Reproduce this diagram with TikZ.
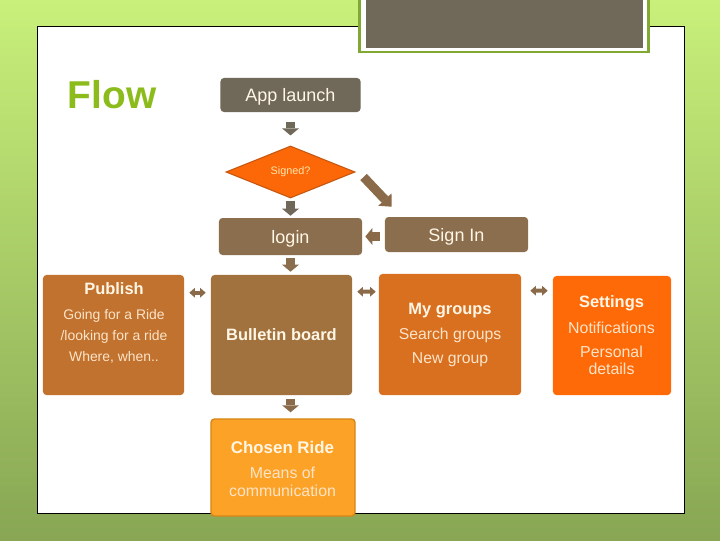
\documentclass[tikz,border=0pt]{standalone}
\usepackage{fontspec}
\setmainfont{Liberation Sans}
\usetikzlibrary{arrows.meta,shapes.geometric}
\definecolor{bgtop}{RGB}{200,240,122}
\definecolor{bgbottom}{RGB}{136,166,84}
\definecolor{flowgreen}{RGB}{140,188,28}
\definecolor{framegreen}{RGB}{128,168,50}
\definecolor{graybrown}{RGB}{112,104,88}
\definecolor{midbrown}{RGB}{139,110,78}
\definecolor{arrowbrown}{RGB}{138,106,72}
\definecolor{publishcol}{RGB}{192,114,46}
\definecolor{bulletincol}{RGB}{161,114,62}
\definecolor{groupscol}{RGB}{216,112,32}
\definecolor{settingscol}{RGB}{254,106,8}
\definecolor{chosencol}{RGB}{252,162,38}
\definecolor{chosenedge}{RGB}{214,134,24}
\definecolor{signedcol}{RGB}{252,104,8}
\definecolor{signededge}{RGB}{200,88,16}
\definecolor{subtext}{RGB}{253,228,200}
\definecolor{titletext}{RGB}{255,246,230}
\newcommand{\boxtitlefont}{\fontsize{11.7}{14}\selectfont\bfseries}

\begin{document}
\begin{tikzpicture}[x=0.025cm, y=-0.025cm,
    flowbox/.style={rectangle, rounded corners=2.5pt, inner sep=0pt, text=titletext},
    stepbox/.style={flowbox, text depth=0pt, font=\fontsize{12.8}{15}\selectfont},
    boxtext/.style={align=center, inner sep=0pt, text=subtext},
    boxtitle/.style={font=\boxtitlefont},
    fatarrow/.style={line width=5.7pt, -{Triangle[length=5pt, width=12pt, line width=0pt]}},
    sidearrow/.style={arrowbrown, line width=2.8pt,
      {Triangle[length=4pt, width=7pt, line width=0pt]}-{Triangle[length=4pt, width=7pt, line width=0pt]}},
  ]

  % page and background
  \useasboundingbox (0,0) rectangle (720,540);
  \shade[top color=bgtop, bottom color=bgbottom] (0,0) rectangle (720,540);
  \filldraw[fill=white, draw=black, line width=0.7pt] (37,26) rectangle (684,513);

  % title box at the top
  \fill[framegreen] (358,0) rectangle (650,53);
  \fill[white] (361,0) rectangle (647,50.5);
  \fill[graybrown] (366,0) rectangle (643,48);

  \node[text=flowgreen, font=\fontsize{27.6}{30}\selectfont\bfseries] (flow) at (112,95) {Flow};

  % --- top of the flow ---
  \node[stepbox, fill=graybrown, minimum width=3.5cm, minimum height=0.85cm] (app) at (290.5,95) {App launch};
  \node[diamond, aspect=2.48, inner sep=0pt, minimum width=3.225cm, minimum height=1.3cm,
        fill=signedcol, draw=signededge, line width=0.8pt,
        text={rgb,255:red,255;green,230;blue,170}, font=\fontsize{7.7}{9}\selectfont] (signed) at (290.5,172) {Signed?};
  \node[stepbox, fill=midbrown, minimum width=3.575cm, minimum height=0.925cm] (login) at (290.5,236.5) {login};
  \node[stepbox, fill=midbrown, minimum width=3.575cm, minimum height=0.875cm] (signin) at (456.5,234.5) {Sign In};

  % --- main row ---
  \node[flowbox, fill=publishcol, minimum width=3.525cm, minimum height=3cm] (publish) at (113.5,335) {};
  \node[boxtext, font=\fontsize{9.9}{14.9}\selectfont] (publish-txt) at (114,323)
    {{\boxtitlefont\color{titletext}Publish}\\[2.8pt]Going for a Ride\\/looking for a ride\\Where, when..};
  \node[flowbox, fill=bulletincol, minimum width=3.525cm, minimum height=3cm,
        boxtitle] (bulletin) at (281.5,335) {Bulletin board};
  \node[flowbox, fill=groupscol, minimum width=3.55cm, minimum height=3.025cm] (groups) at (450,334.5) {};
  \node[boxtext, font=\fontsize{11.2}{17.4}\selectfont] (groups-txt) at (450,335)
    {{\boxtitlefont\color{titletext}My groups}\\Search groups\\New group};
  \node[flowbox, fill=settingscol, minimum width=2.95cm, minimum height=2.975cm] (settings) at (612,335.5) {};
  \node[boxtext, font=\fontsize{11.3}{12.4}\selectfont] (settings-txt) at (611.5,335.5)
    {{\boxtitlefont\color{titletext}Settings}\\[6pt]Notifications\\[4.5pt]Personal\\details};

  % --- bottom ---
  \node[flowbox, fill=chosencol, draw=chosenedge, line width=1pt,
        minimum width=3.6cm, minimum height=2.425cm] (chosen) at (283,467.5) {};
  \node[boxtext, font=\fontsize{11.3}{12.8}\selectfont] (chosen-txt) at (282.5,468.5)
    {{\fontsize{12}{14}\selectfont\bfseries\color{titletext}Chosen Ride}\\[5pt]Means of\\communication};

  % arrows
  \draw[fatarrow, graybrown, shorten <=0.25cm, shorten >=0.25cm] (app.south) -- (signed.north);
  \draw[fatarrow, graybrown, shorten <=0.05cm, shorten >=0.05cm] (signed.south) -- (login.north);
  \draw[fatarrow, midbrown, shorten <=0.075cm, shorten >=0.075cm] (login.south) -- (login.south |- bulletin.north);
  \draw[fatarrow, arrowbrown, shorten <=0.1cm, shorten >=0.15cm] (bulletin.south -| login.south) -- (chosen.north -| login.south);
  \draw[arrowbrown, line width=6.4pt, -{Triangle[length=7pt, width=12.8pt, line width=0pt]}]
    ([shift={(8,5)}]signed.east) -- ([shift={(7,-10)}]signin.north west);
  \draw[arrowbrown, line width=7pt, -{Triangle[length=5pt, width=12pt, line width=0pt]},
        shorten <=0.125cm, shorten >=0.075cm] (signin.west |- login.east) -- (login.east);
  \draw[sidearrow, shorten <=0.125cm, shorten >=0.125cm]
    ([shift={(0,18)}]publish.north east) -- ([shift={(0,18)}]bulletin.north west);
  \draw[sidearrow, shorten <=0.125cm, shorten >=0.075cm]
    ([shift={(0,17)}]bulletin.north east) -- ([shift={(0,18)}]groups.north west);
  \draw[sidearrow, shorten <=0.225cm, shorten >=0.125cm]
    ([shift={(0,17)}]groups.north east) -- ([shift={(0,15)}]settings.north west);

\end{tikzpicture}
\end{document}
